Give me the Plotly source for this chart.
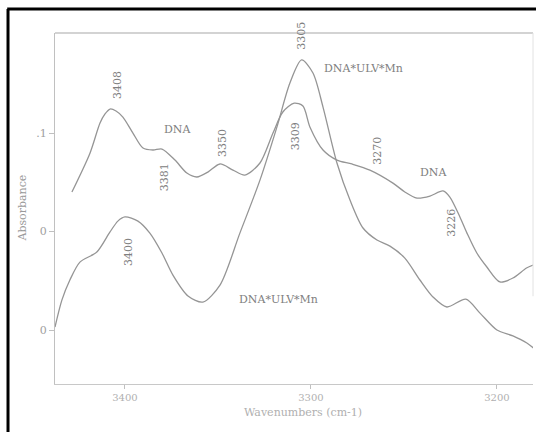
import plotly.graph_objects as go

# DNA spectrum: wavenumber (cm-1) vs absorbance
dna_wn = [3428.5, 3418.8, 3413.4, 3410.8, 3408.0, 3404.8, 3401.1, 3395.7, 3390.3,
          3384.9, 3380.1, 3373.1, 3366.7, 3361.3, 3355.4, 3348.9, 3341.9, 3335.5,
          3327.4, 3320.4, 3315.1, 3309.0, 3304.3, 3300.5, 3293.5, 3286.0, 3278.0,
          3268.3, 3255.9, 3249.5, 3243.0, 3236.0, 3229.0, 3225.3, 3219.9, 3216.1,
          3210.8, 3205.4, 3198.4, 3191.4, 3184.1, 3180.6]
dna_abs = [0.0701, 0.0898, 0.1051, 0.1096, 0.1122, 0.1112, 0.1081, 0.1000, 0.0924,
           0.0914, 0.0919, 0.0863, 0.0797, 0.0777, 0.0802, 0.0843, 0.0812, 0.0787,
           0.0848, 0.1000, 0.1107, 0.1152, 0.1137, 0.1030, 0.0914, 0.0863, 0.0843,
           0.0812, 0.0746, 0.0701, 0.0670, 0.0680, 0.0706, 0.0675, 0.0574, 0.0492,
           0.0391, 0.0320, 0.0244, 0.0264, 0.0315, 0.0330]

# DNA*ULV*Mn spectrum
mix_wn = [3437.6, 3433.9, 3429.6, 3424.2, 3415.1, 3408.1, 3403.8, 3400.0, 3393.0,
          3386.6, 3380.1, 3374.2, 3366.1, 3358.1, 3348.9, 3338.2, 3327.4, 3318.3,
          3311.3, 3305.0, 3298.9, 3293.5, 3286.0, 3279.0, 3272.0, 3264.5, 3257.5,
          3249.5, 3241.4, 3234.4, 3226.9, 3216.7, 3209.1, 3200.0, 3191.4, 3183.9,
          3179.0]
mix_abs = [0.0015, 0.0152, 0.0254, 0.0345, 0.0396, 0.0497, 0.0553, 0.0574, 0.0553,
           0.0492, 0.0391, 0.0279, 0.0173, 0.0142, 0.0228, 0.0492, 0.0761, 0.1030,
           0.1254, 0.1371, 0.1305, 0.1132, 0.0848, 0.0660, 0.0518, 0.0457, 0.0426,
           0.0365, 0.0254, 0.0168, 0.0117, 0.0157, 0.0086, 0.0000, -0.0030, -0.0066,
           -0.0102]

# Peak labels: wavenumber, label height, horizontal nudge (px)
peak_wn = [3408, 3381, 3350, 3305, 3309, 3270, 3226, 3400]
peak_y = [0.1244, 0.0777, 0.0949, 0.1492, 0.0985, 0.0909, 0.0543, 0.0396]
peak_dx = [7, 5, 4, 0, 1, 11, 3, 3]

# Curve names placed beside the traces
name_text = ["DNA", "DNA*ULV*Mn", "DNA", "DNA*ULV*Mn"]
name_wn = [3371.5, 3271.5, 3233.9, 3317.7]
name_y = [0.1020, 0.1330, 0.0802, 0.0157]

x_ticks = [3400, 3300, 3200]
y_ticks = [0.0, 0.05, 0.1]
y_ticktext = ["0", "0", ".1"]

FONT = "DejaVu Serif"
LINE = "#959595"

fig = go.Figure()
fig.add_trace(go.Scatter(x=dna_wn, y=dna_abs, mode="lines",
                         line=dict(color=LINE, width=1.3, shape="spline", smoothing=0.8),
                         hoverinfo="skip", showlegend=False))
fig.add_trace(go.Scatter(x=mix_wn, y=mix_abs, mode="lines",
                         line=dict(color=LINE, width=1.3, shape="spline", smoothing=0.8),
                         hoverinfo="skip", showlegend=False))

annotations = []
for wn, yy, dx in zip(peak_wn, peak_y, peak_dx):
    annotations.append(dict(x=wn, y=yy, xref="x", yref="y", text=str(wn), textangle=-90,
                            showarrow=False, xshift=dx, xanchor="center", yanchor="middle",
                            font=dict(family=FONT, size=11, color="#808080")))
for t, wn, yy in zip(name_text, name_wn, name_y):
    annotations.append(dict(x=wn, y=yy, xref="x", yref="y", text=t, showarrow=False,
                            xanchor="center", yanchor="middle",
                            font=dict(family=FONT, size=11, color="#808080")))

annotations.append(dict(x=-0.069, y=0.50, xref="paper", yref="paper", text="Absorbance",
                        textangle=-90, showarrow=False, xanchor="center", yanchor="middle",
                        font=dict(family=FONT, size=11, color="#9a9a9a")))
annotations.append(dict(x=0.519, y=-0.0826, xref="paper", yref="paper",
                        text="Wavenumbers (cm-1)", showarrow=False,
                        xanchor="center", yanchor="middle",
                        font=dict(family=FONT, size=11, color="#b0b0b0")))

shapes = [
    # plot frame: top and right edges
    dict(type="line", xref="paper", yref="paper", x0=0, x1=1, y0=1, y1=1,
         line=dict(color="#a8a8a8", width=1.2)),
    dict(type="line", xref="paper", yref="paper", x0=1, x1=1, y0=0.25, y1=1,
         line=dict(color="#e2e2e2", width=1)),
    # dark border around the page
    dict(type="line", xref="paper", yref="paper", x0=-0.1, x1=1.01, y0=1.0684, y1=1.0684,
         line=dict(color="#000000", width=3)),
    dict(type="line", xref="paper", yref="paper", x0=-0.0983, x1=-0.0983, y0=-0.2, y1=1.0684,
         line=dict(color="#000000", width=3)),
]

fig.update_layout(
    width=536, height=432,
    margin=dict(l=55, r=3, t=33, b=48),
    paper_bgcolor="white", plot_bgcolor="white",
    annotations=annotations, shapes=shapes,
    xaxis=dict(range=[3437.6, 3180.6], tickvals=x_ticks, ticks="outside", ticklen=4,
               tickcolor="#c0c0c0", showline=True, linecolor="#c8c8c8", linewidth=1,
               showgrid=False, zeroline=False,
               tickfont=dict(family=FONT, size=10, color="#b0b0b0")),
    yaxis=dict(range=[-0.0274, 0.1508], tickvals=y_ticks, ticktext=y_ticktext,
               ticks="outside", ticklen=5, tickcolor="#c0c0c0", showline=True,
               linecolor="#c0c0c0", linewidth=1, showgrid=False, zeroline=False,
               tickfont=dict(family=FONT, size=11, color="#a0a0a0")),
)

fig.write_html("out.html")
